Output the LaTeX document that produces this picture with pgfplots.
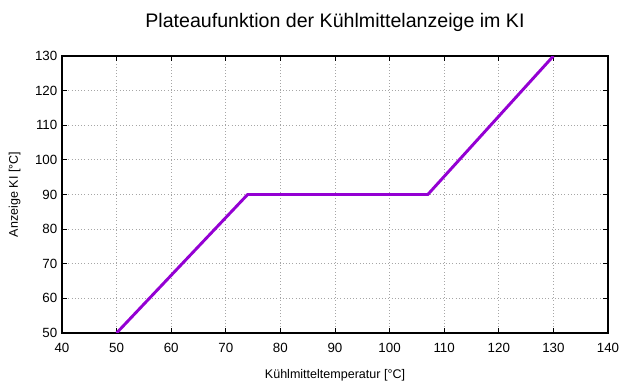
\documentclass[border=0pt]{standalone}
\usepackage{fontspec}
\setmainfont{Liberation Sans}
\usepackage{pgfplots}
\pgfplotsset{compat=1.18}
\definecolor{gpviolet}{HTML}{9400D3}
\begin{document}
\begin{tikzpicture}
\useasboundingbox (-46.5pt,-38.25pt) rectangle (433.5pt,249.75pt);
\begin{axis}[
  scale only axis, width=409.5pt, height=207.75pt,
  at={(0,0)}, anchor=south west,
  xmin=40, xmax=140, ymin=50, ymax=130,
  xtick={40,50,...,140}, ytick={50,60,...,130},
  tick align=inside, major tick length=4pt,
  tick style={black, line width=0.6pt},
  axis line style={black, line width=0.8pt},
  grid=major, grid style={gray!70, dotted, line width=0.6pt},
  /pgf/number format/assume math mode=true,
  tick label style={font=\fontsize{10}{12}\selectfont},
  xticklabel style={yshift=-4pt},
  title={Plateaufunktion der Kühlmittelanzeige im KI},
  title style={font=\fontsize{14.7}{17}\selectfont, at={(0.5,1)}, yshift=8.5pt},
  xlabel={Kühlmitteltemperatur [°C]},
  ylabel={Anzeige KI [°C]},
  label style={font=\fontsize{9.4}{11}\selectfont},
  xlabel style={yshift=-6pt},
  ylabel style={yshift=4pt},
]
\addplot[gpviolet, line width=2.2pt] coordinates {(50,50) (74,90) (107,90) (130,130)};
\end{axis}
\end{tikzpicture}
\end{document}
